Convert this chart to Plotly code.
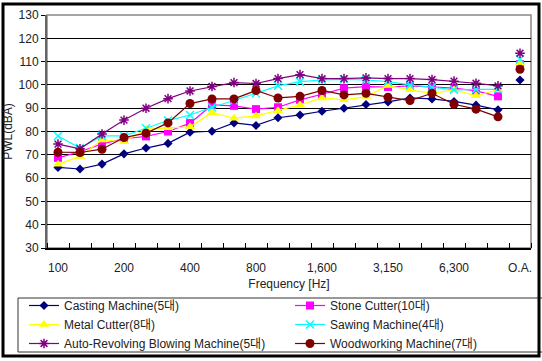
import plotly.graph_objects as go

bands = ["100", "125", "160", "200", "250", "315", "400", "500", "630", "800",
         "1000", "1250", "1600", "2000", "2500", "3150", "4000", "5000", "6300",
         "8000", "10000", "O.A."]
tick_bands = ["100", "200", "400", "800", "1600", "3150", "6300", "O.A."]
tick_text = ["100", "200", "400", "800", "1,600", "3,150", "6,300", "O.A."]

casting = [64.6, 63.9, 66.0, 70.4, 72.9, 74.9, 79.7, 80.1, 83.7, 82.6, 85.9,
           87.1, 88.7, 90.0, 91.6, 92.7, 94.4, 94.0, 92.9, 91.3, 89.3]
casting_oa = 102.1
stone = [68.7, 71.3, 74.7, 76.9, 77.9, 80.0, 83.6, 91.4, 91.0, 89.6, 90.4,
         93.6, 96.0, 98.6, 99.3, 99.1, 99.6, 99.0, 98.6, 97.4, 95.1]
stone_oa = 108.9
metal = [65.9, 69.3, 76.4, 75.6, 81.0, 81.6, 82.0, 88.1, 85.7, 86.7, 88.9,
         91.4, 94.4, 93.6, 95.0, 99.7, 97.9, 96.4, 97.9, 95.3, 97.9]
metal_oa = 109.3
sawing = [78.1, 72.9, 78.1, 78.1, 81.4, 84.7, 87.1, 90.4, 93.3, 96.3, 99.6,
          101.4, 102.1, 102.4, 102.1, 101.4, 100.0, 99.0, 97.9, 98.1, 98.1]
sawing_oa = 111.0
auto_rev = [74.6, 72.6, 78.9, 84.9, 90.0, 94.1, 97.4, 99.3, 101.0, 100.6, 102.7,
            104.4, 102.7, 102.7, 103.0, 102.7, 102.7, 102.3, 101.6, 100.7, 99.6]
auto_rev_oa = 113.6
wood = [71.1, 71.0, 72.4, 77.4, 79.3, 83.7, 92.0, 94.0, 94.0, 97.6, 94.4,
        95.1, 97.6, 95.7, 96.4, 94.7, 93.3, 96.4, 91.7, 89.6, 86.3]
wood_oa = 106.7

series = [
    ("Casting Machine(5대)", casting, casting_oa, "#000080", "diamond", 7, "legend"),
    ("Stone Cutter(10대)", stone, stone_oa, "#FF00FF", "square", 8, "legend2"),
    ("Metal Cutter(8대)", metal, metal_oa, "#FFFF00", "triangle-up", 9, "legend"),
    ("Sawing Machine(4대)", sawing, sawing_oa, "#00FFFF", "x-thin-open", 8, "legend2"),
    ("Auto-Revolving Blowing Machine(5대)", auto_rev, auto_rev_oa, "#800080", "asterisk-open", 8, "legend"),
    ("Woodworking Machine(7대)", wood, wood_oa, "#800000", "circle", 9, "legend2"),
]

idx = {b: i for i, b in enumerate(bands)}

fig = go.Figure()
for name, vals, oa, color, sym, size, leg in series:
    xs = [idx[b] for b in bands[:len(vals)]]
    open_sym = sym.endswith("open")
    marker = dict(color=color, symbol=sym, size=size,
                  line=dict(color=color, width=1.5 if open_sym else 0))
    fig.add_trace(go.Scatter(x=xs, y=vals, mode="lines+markers", name=name,
                             legend=leg,
                             line=dict(color=color, width=1.2), marker=marker))
    fig.add_trace(go.Scatter(x=[idx["O.A."]], y=[oa], mode="markers", showlegend=False,
                             marker=marker, hoverinfo="skip"))

font = "Liberation Sans, Arial, Noto Sans CJK KR, sans-serif"
W, H = 542, 361
L, R, T, B = 47, 531, 15, 248
PW, PH = R - L, B - T

leg_common = dict(orientation="v", xanchor="left", yanchor="top",
                  font=dict(family=font, size=12, color="#222"),
                  bgcolor="rgba(0,0,0,0)", itemsizing="trace", tracegroupgap=0)

fig.update_layout(
    width=W, height=H,
    margin=dict(l=L, r=W - R, t=T, b=H - B, autoexpand=False),
    paper_bgcolor="white", plot_bgcolor="white",
    font=dict(family=font, size=12, color="#222"),
    showlegend=True,
    legend=dict(x=(24 - L) / PW, y=(B - 291) / PH, **leg_common),
    legend2=dict(x=(290 - L) / PW, y=(B - 291) / PH, **leg_common),
    xaxis=dict(range=[-0.5, len(bands) - 0.5],
               tickvals=[idx[b] for b in tick_bands], ticktext=tick_text,
               ticks="", showgrid=False, zeroline=False,
               showline=True, linecolor="black", linewidth=2,
               ticklabelstandoff=8,
               minor=dict(ticks="inside", tick0=-0.5, dtick=1, ticklen=5,
                          tickcolor="black", tickwidth=1, showgrid=False),
               title=dict(text="Frequency [Hz]", standoff=5,
                          font=dict(family=font, size=12, color="#222"))),
    yaxis=dict(range=[30, 130], dtick=10, tick0=30,
               showgrid=True, gridcolor="black", gridwidth=1,
               zeroline=False, showline=True, linecolor="#666", linewidth=2,
               ticks="outside", ticklen=4, tickcolor="black",
               title=dict(text="PWL(dBA)", standoff=3,
                          font=dict(family=font, size=12, color="#222"))),
)

# plot area border (gray) on top/right
fig.add_shape(type="rect", xref="paper", yref="paper", x0=0, x1=1, y0=0, y1=1,
              line=dict(color="#888", width=1.5), layer="below")
# legend frame
fig.add_shape(type="rect", xref="paper", yref="paper",
              x0=(18 - L) / PW, x1=1.06, y0=(B - 352) / PH, y1=(B - 298) / PH,
              line=dict(color="#333", width=1))
# outer frame
fig.add_shape(type="rect", xref="paper", yref="paper",
              x0=(3 - L) / PW, x1=(539 - L) / PW, y0=(B - 356) / PH, y1=(B - 4) / PH,
              line=dict(color="black", width=3))

fig.write_html("out.html")
